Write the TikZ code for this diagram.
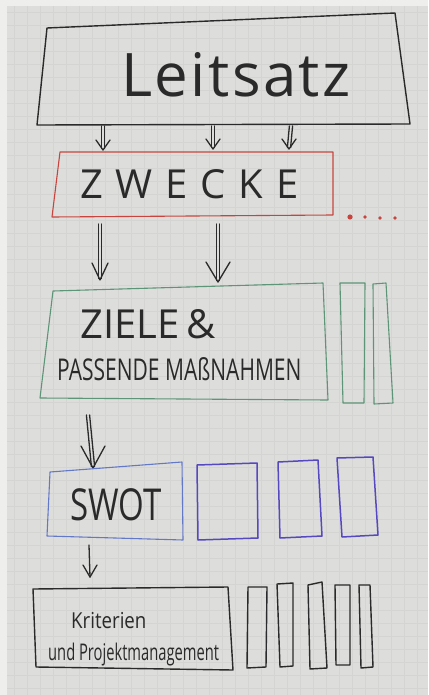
\documentclass[tikz,border=0pt]{standalone}
\usepackage{fontspec}
\setmainfont{Open Sans}
\usetikzlibrary{calc}
\definecolor{paper}{HTML}{DDDDDB}
\definecolor{margin}{HTML}{EEEEEC}
\definecolor{gridc}{HTML}{D4D4D2}
\definecolor{ink}{HTML}{2A2A2A}
\definecolor{redink}{HTML}{C8453F}
\definecolor{greenink}{HTML}{5E9478}
\definecolor{blueink}{HTML}{6478C8}
\definecolor{violetink}{HTML}{5548C0}
\tikzset{
  hbox/.style={line width=1.4pt, line join=round, line cap=round},
  blkbox/.style={hbox, draw=ink},
  redbox/.style={hbox, draw=redink, line width=1.1pt},
  greenbox/.style={hbox, draw=greenink, line width=1.1pt},
  bluebox/.style={hbox, draw=blueink, line width=1.1pt},
  violetbox/.style={hbox, draw=violetink, line width=1.5pt},
  arr/.style={draw=ink, line width=1.3pt, line cap=round, line join=round},
  hand/.style={text=ink, inner sep=0pt},
}
\newcommand\hdarrow[4]{%
  \draw[arr] ([xshift=-1.6pt]#1) -- ([xshift=-1.6pt,yshift=1.5pt]#2);
  \draw[arr] ([xshift=1.6pt]#1) -- ([xshift=1.6pt,yshift=1.5pt]#2);
  \draw[arr] ([xshift=-#3pt,yshift=#4pt]#2) -- (#2) -- ([xshift=#3pt,yshift=#4pt]#2);
}
\begin{document}
\begin{tikzpicture}[x=1pt,y=-1pt]
\useasboundingbox (0,0) rectangle (428,695);
\fill[margin] (0,0) rectangle (428,695);
\fill[paper] (7,6) rectangle (428,695);
\foreach \gx in {14,27,...,428} \draw[gridc, line width=0.4pt] (\gx,6) -- (\gx,695);
\foreach \gy in {12,25,...,695} \draw[gridc, line width=0.4pt] (7,\gy) -- (428,\gy);

% Leitsatz
\draw[blkbox] (47,28) -- (395,13) -- (410,124) -- (37,125) -- cycle;
\node[hand, anchor=base, font=\fontsize{60}{60}\selectfont\addfontfeature{LetterSpace=4}] (leit) at (236,97) {Leitsatz};

% Zwecke
\draw[redbox] (60,152) -- (333,152) -- (333,215) -- (52,217) -- cycle;
\node[hand, anchor=base west, font=\fontsize{40}{40}\selectfont\addfontfeature{LetterSpace=32}] (zweck) at (80,198) {ZWECKE};
\fill[redink] (350,217) circle (2.6);
\fill[redink] (365,217) circle (1.8);
\fill[redink] (380,218) circle (1.8);
\fill[redink] (395,218) circle (1.8);

% arrows Leitsatz -> Zwecke
\coordinate (a1s) at (103,126); \coordinate (a1e) at (103,150);
\coordinate (a2s) at (213,126); \coordinate (a2e) at (213,149);
\coordinate (a3s) at (291,126); \coordinate (a3e) at (289,149);
\hdarrow{a1s}{a1e}{7}{10}
\hdarrow{a2s}{a2e}{7}{10}
\hdarrow{a3s}{a3e}{7}{10}

% arrows Zwecke -> Ziele
\coordinate (b1s) at (100,224); \coordinate (b1e) at (100,280);
\coordinate (b2s) at (218,224); \coordinate (b2e) at (218,282);
\hdarrow{b1s}{b1e}{8}{17}
\hdarrow{b2s}{b2e}{12}{20}

% Ziele
\draw[greenbox] (53,291) -- (323,283) -- (328,400) -- (40,398) -- cycle;
\draw[greenbox] (340,283) -- (365,283) -- (364,403) -- (343,403) -- cycle;
\draw[greenbox] (373,284) -- (386,283) -- (393,403) -- (374,404) -- cycle;
\node[hand, anchor=base west, font=\fontsize{40}{40}\selectfont] (ziele) at (80,338) {ZIELE\,\&};
\node[hand, anchor=base west, font=\fontsize{30}{30}\selectfont] (mass) at (57,380) {\scalebox{0.7}[1]{PASSENDE MAßNAHMEN}};

% arrow Ziele -> SWOT
\coordinate (c1s) at (88,415); \coordinate (c1e) at (93,468);
\hdarrow{c1s}{c1e}{12}{22}

% SWOT
\draw[bluebox] (50,472) -- (182,462) -- (183,540) -- (47,536) -- cycle;
\node[hand, anchor=base west, font=\fontsize{44}{44}\selectfont] (swot) at (70,520) {\scalebox{0.75}[1]{SWOT}};
\draw[violetbox] (197,465) -- (257,463) -- (258,538) -- (198,540) -- cycle;
\draw[violetbox] (278,462) -- (318,460) -- (322,536) -- (280,538) -- cycle;
\draw[violetbox] (337,458) -- (373,457) -- (378,535) -- (342,537) -- cycle;

% arrow SWOT -> Kriterien
\coordinate (d1s) at (89,545); \coordinate (d1e) at (90,577);
\draw[arr] (d1s) -- (d1e);
\draw[arr] ([xshift=-7pt,yshift=12pt]d1e) -- (d1e) -- ([xshift=7pt,yshift=12pt]d1e);

% Kriterien
\draw[blkbox] (33,589) -- (228,587) -- (233,670) -- (36,667) -- cycle;
\node[hand, anchor=base west, font=\fontsize{22}{22}\selectfont] (krit) at (71,628) {\scalebox{0.85}[1]{Kriterien}};
\node[hand, anchor=base west, font=\fontsize{23}{23}\selectfont] (projm) at (48,660) {\scalebox{0.64}[1]{und Projektmanagement}};
\draw[blkbox] (248,587) -- (267,587) -- (266,667) -- (247,668) -- cycle;
\draw[blkbox] (277,584) -- (293,583) -- (293,666) -- (280,667) -- cycle;
\draw[blkbox] (308,585) -- (322,582) -- (327,668) -- (310,669) -- cycle;
\draw[blkbox] (335,585) -- (350,585) -- (350,665) -- (336,665) -- cycle;
\draw[blkbox] (359,585) -- (370,585) -- (373,667) -- (361,668) -- cycle;
\end{tikzpicture}
\end{document}
